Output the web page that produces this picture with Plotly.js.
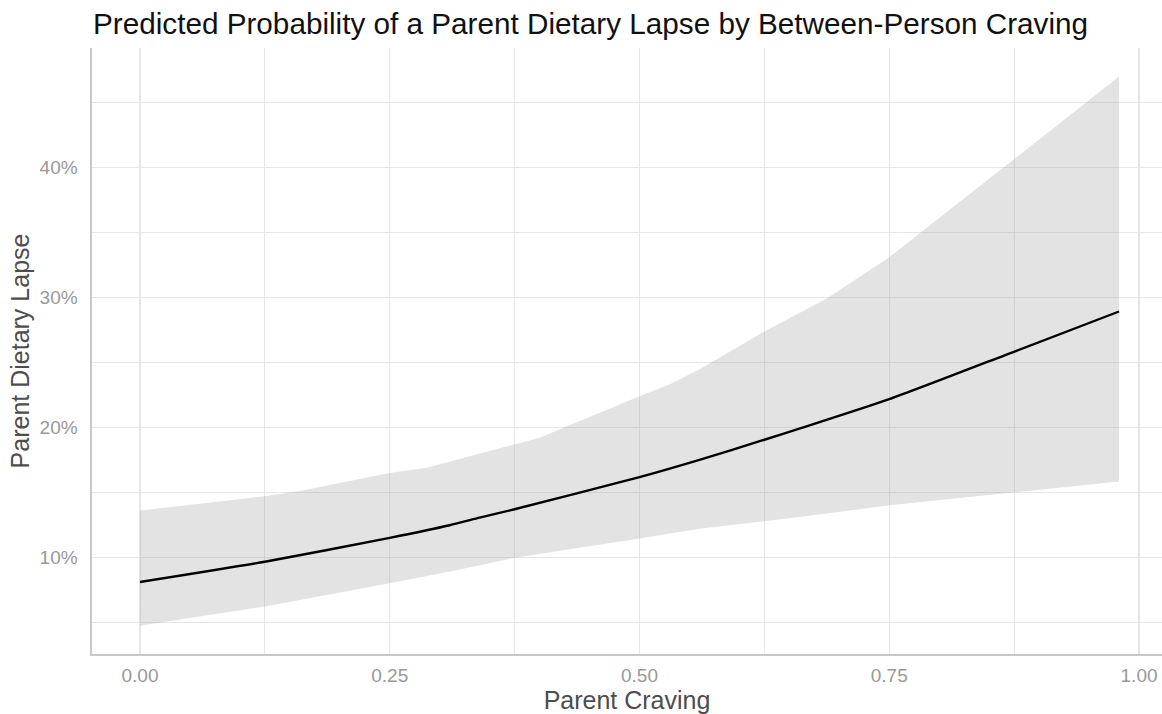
<!DOCTYPE html>
<html>
<head>
<meta charset="utf-8">
<script src="https://cdn.plot.ly/plotly-3.0.1.min.js"></script>
<style>html,body{margin:0;padding:0;background:#fff;}#chart{width:1162px;height:714px;}</style>
</head>
<body>
<div id="chart"></div>
<script>
// Predicted probability (%) by parent craving
const lineX = [0, 0.125, 0.25, 0.31, 0.34, 0.375, 0.5, 0.56, 0.625, 0.66, 0.75, 0.876, 0.98];
const lineY = [8.1, 9.66, 11.5, 12.47, 13.05, 13.7, 16.17, 17.5, 19.05, 19.9, 22.17, 25.86, 28.92];

const upperX = [0, 0.125, 0.16, 0.25, 0.287, 0.34, 0.375, 0.40, 0.5, 0.53, 0.5606, 0.6256, 0.687, 0.75, 0.77, 0.98];
const upperY = [13.6, 14.7, 15.1, 16.5, 16.9, 18.0, 18.7, 19.2, 22.4, 23.3, 24.5, 27.4, 29.9, 33.1, 34.3, 47.0];

const lowerX = [0, 0.125, 0.25, 0.31, 0.34, 0.375, 0.5, 0.56, 0.625, 0.66, 0.75, 0.876, 0.98];
const lowerY = [4.74, 6.22, 8.0, 8.9, 9.4, 9.97, 11.45, 12.2, 12.8, 13.1, 14.0, 15.0, 15.84];

const xTickVals = [0, 0.25, 0.5, 0.75, 1.0];
const xTickText = ["0.00", "0.25", "0.50", "0.75", "1.00"];
const yTickVals = [10, 20, 30, 40];
const yTickText = ["10%", "20%", "30%", "40%"];

const ribbonX = upperX.concat(lowerX.slice().reverse());
const ribbonY = upperY.concat(lowerY.slice().reverse());

const traces = [
  {
    x: ribbonX, y: ribbonY, type: 'scatter', mode: 'lines',
    fill: 'toself', fillcolor: 'rgba(153,153,153,0.27)',
    line: {width: 0, color: 'rgba(0,0,0,0)'}, hoverinfo: 'skip', showlegend: false
  },
  {
    x: lineX, y: lineY, type: 'scatter', mode: 'lines',
    line: {color: '#000000', width: 2.4, shape: 'spline', smoothing: 0.6}, showlegend: false
  }
];

const gridC = '#e6e6e6';
const layout = {
  width: 1162, height: 714,
  paper_bgcolor: '#ffffff', plot_bgcolor: '#ffffff',
  margin: {l: 92, r: 0, t: 48, b: 60},
  font: {family: '"Liberation Sans", Arial, sans-serif'},
  title: {
    text: 'Predicted Probability of a Parent Dietary Lapse by Between-Person Craving',
    font: {size: 29.7, color: '#111111'},
    xref: 'container', yref: 'container',
    x: 93/1162, xanchor: 'left', y: 1 - 24/714, yanchor: 'middle'
  },
  xaxis: {
    range: [-0.048, 1.023],
    tickvals: xTickVals, ticktext: xTickText,
    showgrid: true, gridcolor: gridC, gridwidth: 1.3,
    minor: {dtick: 0.125, tick0: 0, showgrid: true, gridcolor: gridC, gridwidth: 1},
    zeroline: false,
    showline: true, linecolor: '#c8c8c8', linewidth: 1.6,
    ticks: '', ticklabelstandoff: 4,
    tickfont: {size: 19, color: '#999999'},
    title: {text: 'Parent Craving', font: {size: 25, color: '#4d4d4d'}, standoff: 9}
  },
  yaxis: {
    range: [2.56, 49.2],
    tickvals: yTickVals, ticktext: yTickText,
    showgrid: true, gridcolor: gridC, gridwidth: 1.3,
    minor: {dtick: 5, tick0: 0, showgrid: true, gridcolor: gridC, gridwidth: 1},
    zeroline: false,
    showline: true, linecolor: '#c8c8c8', linewidth: 1.6,
    ticks: '', ticklabelstandoff: 9,
    tickfont: {size: 19, color: '#999999'},
    title: {text: 'Parent Dietary Lapse', font: {size: 25, color: '#4d4d4d'}, standoff: 3}
  }
};

Plotly.newPlot('chart', traces, layout, {displayModeBar: false, staticPlot: true});
</script>
</body>
</html>
